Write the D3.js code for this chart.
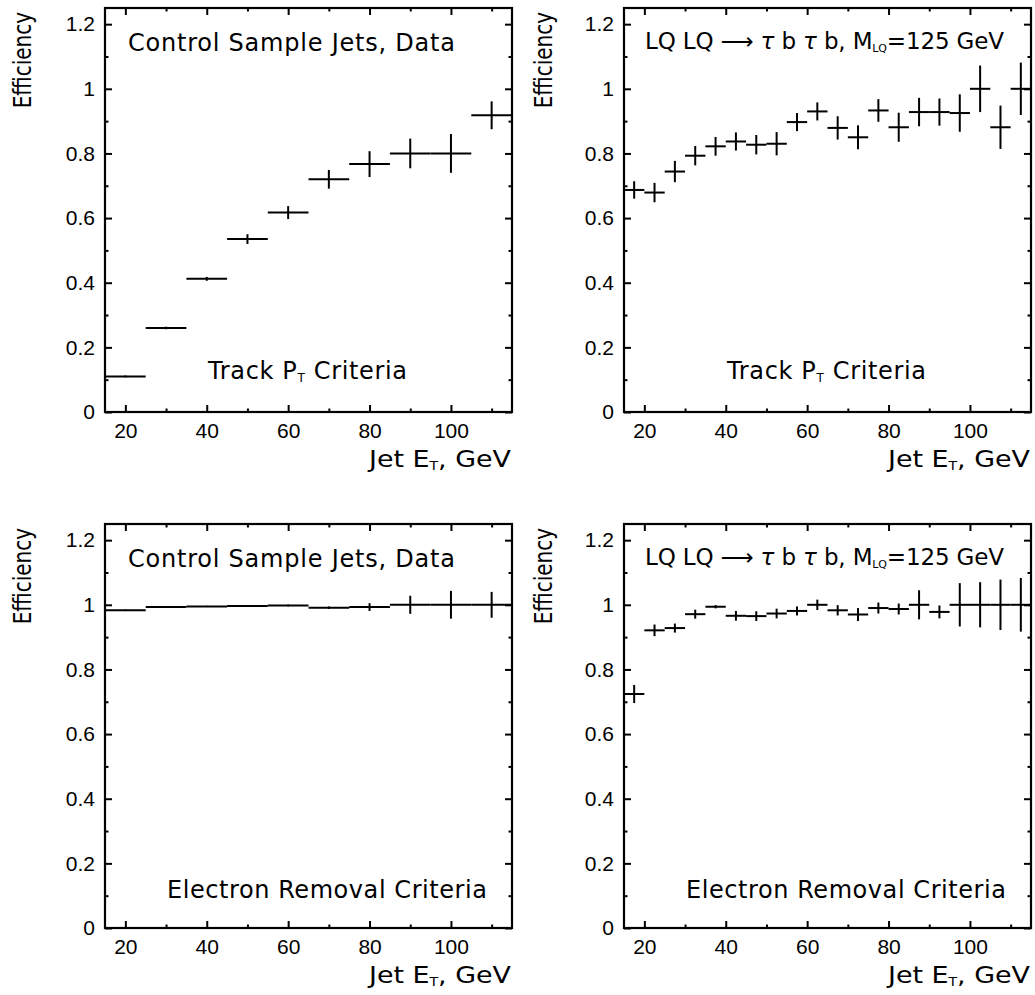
<!DOCTYPE html>
<html>
<head>
<meta charset="utf-8" />
<title>Jet efficiencies</title>
<script src="https://d3js.org/d3.v7.min.js"></script>
<style>
  body { margin: 0; background: #fff; }
  svg { font-family: "DejaVu Sans", sans-serif; }
  .axis text { font-size: 21px; fill: #000; }
  .axis line { stroke: #000; stroke-width: 2; }
  .axis path { display: none; }
  .frame { fill: none; stroke: #000; stroke-width: 2.2; }
  .bar line { stroke: #000; stroke-width: 2; }
</style>
</head>
<body>
<script>
// bin lower edges (GeV)
var coarseBins = [15, 25, 35, 45, 55, 65, 75, 85, 95, 105];           // width 10
var fineBins = [15, 20, 25, 30, 35, 40, 45, 50, 55, 60,
                65, 70, 75, 80, 85, 90, 95, 100, 105, 110];           // width 5

// track pT criteria, control sample jets (data)
var trackData    = [0.11, 0.26, 0.412, 0.535, 0.617, 0.72, 0.767, 0.80, 0.80, 0.918];
var trackDataErr = [0.003, 0.004, 0.006, 0.015, 0.02, 0.029, 0.04, 0.046, 0.06, 0.043];

// track pT criteria, LQ LQ -> tau b tau b, M=125
var trackLQ    = [0.687, 0.679, 0.744, 0.793, 0.822, 0.837, 0.827, 0.830, 0.897, 0.930,
                  0.879, 0.850, 0.933, 0.881, 0.928, 0.928, 0.925, 1.0, 0.881, 1.0];
var trackLQErr = [0.027, 0.03, 0.033, 0.03, 0.029, 0.028, 0.03, 0.036, 0.028, 0.028,
                  0.036, 0.037, 0.035, 0.045, 0.044, 0.042, 0.058, 0.072, 0.067, 0.081];

// electron removal criteria, control sample jets (data)
var elecData    = [0.983, 0.993, 0.995, 0.996, 0.998, 0.991, 0.993, 1.0, 1.0, 1.0];
var elecDataErr = [0.002, 0.002, 0.002, 0.002, 0.003, 0.004, 0.012, 0.028, 0.043, 0.04];

// electron removal criteria, LQ sample
var elecLQ    = [0.724, 0.921, 0.928, 0.971, 0.994, 0.966, 0.965, 0.973, 0.981, 1.0,
                 0.983, 0.970, 0.99, 0.987, 1.0, 0.978, 1.0, 1.0, 1.0, 1.0];
var elecLQErr = [0.028, 0.018, 0.014, 0.014, 0.005, 0.015, 0.015, 0.015, 0.014, 0.016,
                 0.016, 0.02, 0.017, 0.017, 0.045, 0.02, 0.067, 0.07, 0.078, 0.083];

var xMajor = [20, 40, 60, 80, 100];
var xMinor = [30, 50, 70, 90, 110];
var yMajor = [0, 0.2, 0.4, 0.6, 0.8, 1, 1.2];
var yMinor = [0.1, 0.3, 0.5, 0.7, 0.9, 1.1];

var W = 1035, H = 995;
var pw = 407, ph = 404;

var svg = d3.select("body").append("svg")
    .attr("width", W)
    .attr("height", H);

function toBins(edges, width, vals, errs) {
    return edges.map(function (lo, i) {
        return { lo: lo, hi: lo + width, v: vals[i], e: errs[i] };
    });
}

var panels = [
    { x: 105, y: 8, top: "data", bottom: "track", bins: toBins(coarseBins, 10, trackData, trackDataErr) },
    { x: 624, y: 8, top: "lq", bottom: "track", bins: toBins(fineBins, 5, trackLQ, trackLQErr) },
    { x: 105, y: 524, top: "data", bottom: "elec", bins: toBins(coarseBins, 10, elecData, elecDataErr) },
    { x: 624, y: 524, top: "lq", bottom: "elec", bins: toBins(fineBins, 5, elecLQ, elecLQErr) }
];

var x = d3.scaleLinear().domain([15, 115]).range([0, pw]);
var y = d3.scaleLinear().domain([0, 1.25]).range([ph, 0]);
var plain = function (d) { return String(d); };

panels.forEach(function (p, k) {
    var g = svg.append("g")
        .attr("transform", "translate(" + p.x + "," + p.y + ")");

    g.append("clipPath").attr("id", "clip" + k)
        .append("rect").attr("width", pw).attr("height", ph);

    // ticks, all pointing inward
    g.append("g").attr("class", "axis")
        .attr("transform", "translate(0," + ph + ")")
        .call(d3.axisBottom(x).tickValues(xMajor).tickSize(-7).tickPadding(11).tickFormat(plain));
    g.append("g").attr("class", "axis")
        .attr("transform", "translate(0," + ph + ")")
        .call(d3.axisBottom(x).tickValues(xMinor).tickSize(-3.5).tickFormat(""));
    g.append("g").attr("class", "axis")
        .call(d3.axisTop(x).tickValues(xMajor).tickSize(-7).tickFormat(""));
    g.append("g").attr("class", "axis")
        .call(d3.axisTop(x).tickValues(xMinor).tickSize(-3.5).tickFormat(""));

    g.append("g").attr("class", "axis")
        .call(d3.axisLeft(y).tickValues(yMajor).tickSize(-7).tickPadding(10).tickFormat(plain));
    g.append("g").attr("class", "axis")
        .call(d3.axisLeft(y).tickValues(yMinor).tickSize(-3.5).tickFormat(""));
    g.append("g").attr("class", "axis")
        .attr("transform", "translate(" + pw + ",0)")
        .call(d3.axisRight(y).tickValues(yMajor).tickSize(-7).tickFormat(""));
    g.append("g").attr("class", "axis")
        .attr("transform", "translate(" + pw + ",0)")
        .call(d3.axisRight(y).tickValues(yMinor).tickSize(-3.5).tickFormat(""));

    // data points: bin-width horizontal bar + vertical error bar
    var bars = g.append("g").attr("class", "bar")
        .attr("clip-path", "url(#clip" + k + ")")
        .selectAll("g")
        .data(p.bins)
        .enter().append("g");

    bars.append("line")
        .attr("x1", function (d) { return x(d.lo); })
        .attr("x2", function (d) { return x(d.hi); })
        .attr("y1", function (d) { return y(d.v); })
        .attr("y2", function (d) { return y(d.v); });

    bars.append("line")
        .attr("x1", function (d) { return x((d.lo + d.hi) / 2); })
        .attr("x2", function (d) { return x((d.lo + d.hi) / 2); })
        .attr("y1", function (d) { return y(d.v - d.e); })
        .attr("y2", function (d) { return y(d.v + d.e); });

    g.append("rect").attr("class", "frame")
        .attr("width", pw).attr("height", ph);

    // y label (narrowed glyphs, end at the top)
    var xl = (k % 2 === 0) ? -74 : -72;
    g.append("text")
        .attr("transform", "translate(" + xl + ",4) rotate(-90) scale(0.8,1)")
        .attr("text-anchor", "end")
        .style("font-size", "25px")
        .text("Efficiency");

    // x label
    var xt = g.append("text")
        .attr("x", pw - 1)
        .attr("y", ph + 55)
        .attr("text-anchor", "end")
        .attr("textLength", 142)
        .attr("lengthAdjust", "spacingAndGlyphs")
        .style("font-size", "23px");
    xt.append("tspan").text("Jet E");
    xt.append("tspan").attr("dy", 3).style("font-size", "12px").text("T");
    xt.append("tspan").attr("dy", -3).text(", GeV");

    // upper caption
    if (p.top === "data") {
        g.append("text")
            .attr("x", 23).attr("y", 43)
            .attr("textLength", 327)
            .style("font-size", "24px")
            .text("Control Sample Jets, Data");
    } else {
        var t = g.append("text")
            .attr("x", 21).attr("y", 41)
            .attr("textLength", 359)
            .style("font-size", "23px");
        t.append("tspan").text("LQ LQ ");
        t.append("tspan").text("⟶");
        t.append("tspan").style("font-style", "italic").text(" τ");
        t.append("tspan").text(" b ");
        t.append("tspan").style("font-style", "italic").text("τ");
        t.append("tspan").text(" b, M");
        t.append("tspan").attr("dy", 3).style("font-size", "11px").text("LQ");
        t.append("tspan").attr("dy", -3).text("=125 GeV");
    }

    // lower caption
    if (p.bottom === "track") {
        var tr = g.append("text")
            .attr("x", 103).attr("y", ph - 33)
            .attr("textLength", 199)
            .style("font-size", "24px");
        tr.append("tspan").text("Track P");
        tr.append("tspan").attr("dy", 3).style("font-size", "12px").text("T");
        tr.append("tspan").attr("dy", -3).text(" Criteria");
    } else {
        g.append("text")
            .attr("x", pw - 25).attr("y", ph - 30)
            .attr("text-anchor", "end")
            .attr("textLength", 320)
            .style("font-size", "24px")
            .text("Electron Removal Criteria");
    }
});
</script>
</body>
</html>
